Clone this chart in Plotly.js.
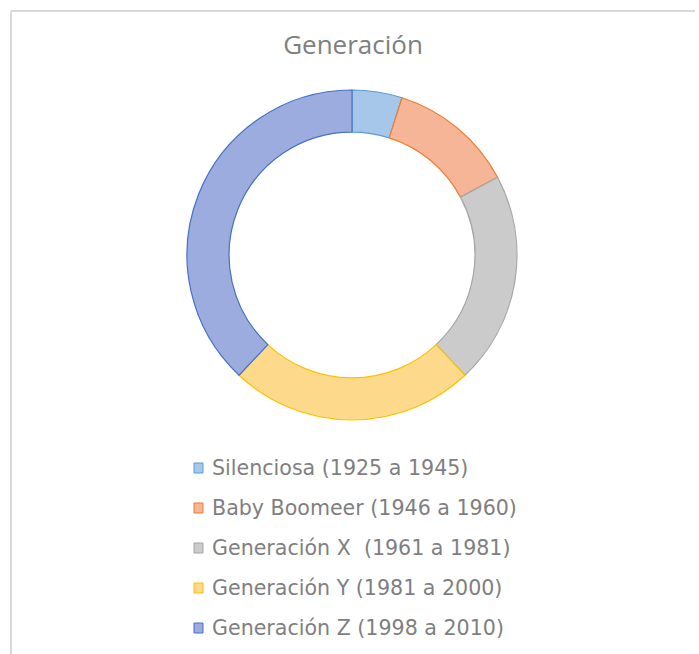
<!DOCTYPE html>
<html>
<head>
<meta charset="utf-8">
<script src="https://cdn.plot.ly/plotly-3.0.1.min.js"></script>
<style>
html,body{margin:0;padding:0;background:#fff;}
#chart{width:699px;height:654px;}
</style>
</head>
<body>
<div id="chart"></div>
<script>
// ---- data ----
const labels = [
  "Silenciosa (1925 a 1945)",
  "Baby Boomeer (1946 a 1960)",
  "Generación X  (1961 a 1981)",
  "Generación Y (1981 a 2000)",
  "Generación Z (1998 a 2010)"
];
const values = [4.9, 12.3, 20.8, 24.0, 38.0];
const fillColors = ["#a6c7ea", "#f6b596", "#cbcbcb", "#fdd98c", "#9cacde"];
const lineColors = ["#5b9bd5", "#ed7d31", "#a5a5a5", "#ffc000", "#4472c4"];
const chartTitle = "Generación";

// ---- layout helpers (pixel -> paper) ----
const W = 699, H = 654;
const px = x => x / W;
const py = y => 1 - y / H;

const cx = 352, cy = 255, R = 165;

const trace = {
  type: "pie",
  labels: labels,
  values: values,
  sort: false,
  direction: "clockwise",
  rotation: 0,
  hole: 0.745,
  textinfo: "none",
  hoverinfo: "label+value",
  showlegend: false,
  marker: { colors: fillColors, line: { color: lineColors, width: 1.2 } },
  domain: { x: [px(cx - R), px(cx + R)], y: [py(cy + R), py(cy - R)] }
};

const annotations = [];
const shapes = [
  { type: "line", xref: "paper", yref: "paper", x0: px(11), x1: px(695), y0: py(11), y1: py(11), line: { color: "#d9d9d9", width: 2 } },
  { type: "line", xref: "paper", yref: "paper", x0: px(11), x1: px(11), y0: py(11), y1: py(654), line: { color: "#d9d9d9", width: 2 } }
];
labels.forEach((lab, i) => {
  const yc = 468 + i * 40;
  annotations.push({
    xref: "paper", yref: "paper", x: px(210), y: py(yc),
    xanchor: "left", yanchor: "middle", showarrow: false,
    text: lab, font: { family: "DejaVu Sans, Verdana, sans-serif", size: 20.6, color: "#7f7f7f" }
  });
  shapes.push({
    type: "rect", xref: "paper", yref: "paper",
    x0: px(194), x1: px(203), y0: py(yc + 5), y1: py(yc - 5),
    fillcolor: fillColors[i], line: { color: lineColors[i], width: 1 }
  });
});

const layout = {
  width: W, height: H,
  margin: { l: 0, r: 0, t: 0, b: 0 },
  paper_bgcolor: "#ffffff",
  showlegend: false,
  title: {
    text: chartTitle,
    x: px(353), xanchor: "center",
    y: py(45), yanchor: "middle",
    font: { family: "Open Sans, Noto Sans, sans-serif", size: 26, color: "#7f7f7f" }
  },
  annotations: annotations,
  shapes: shapes
};

Plotly.newPlot("chart", [trace], layout, { displayModeBar: false, staticPlot: true });
</script>
</body>
</html>
